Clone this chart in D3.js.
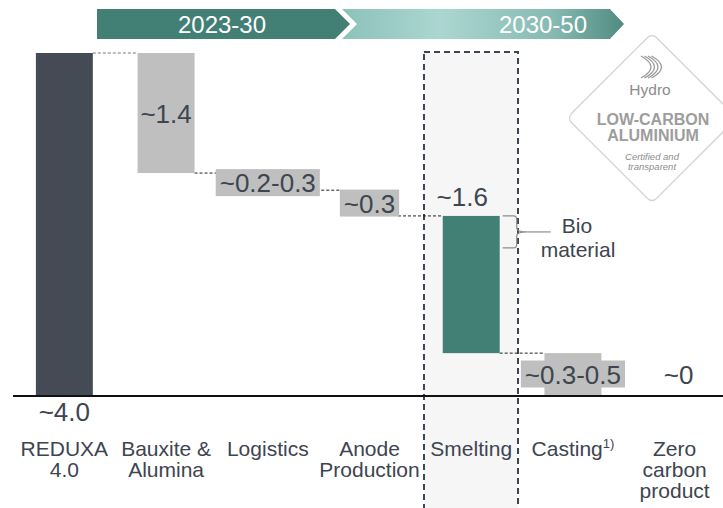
<!DOCTYPE html>
<html>
<head>
<meta charset="utf-8">
<script src="https://cdn.jsdelivr.net/npm/d3@7"></script>
<style>
  html, body { margin: 0; padding: 0; background: #fff; }
  svg { display: block; font-family: "Liberation Sans", Arial, sans-serif; }
</style>
</head>
<body>
<svg id="chart" width="723" height="508"></svg>
<script>
// ---------- data ----------
const categories = ["REDUXA 4.0", "Bauxite & Alumina", "Logistics", "Anode Production", "Smelting", "Casting", "Zero carbon product"];
const categoryLines = [["REDUXA", "4.0"], ["Bauxite &", "Alumina"], ["Logistics"], ["Anode", "Production"], ["Smelting"], ["Casting"], ["Zero", "carbon", "product"]];
const startValue = 4.0;
const reductions = [1.4, 0.2, 0.3, 1.6, 0.5];      // drawn steps (Bauxite..Casting)
const valueLabels = ["~4.0", "~1.4", "~0.2-0.3", "~0.3", "~1.6", "~0.3-0.5", "~0"];
const periods = ["2023-30", "2030-50"];
const logoLines = ["Hydro", "LOW-CARBON", "ALUMINIUM", "Certified and", "transparent"];

// ---------- layout ----------
const svg = d3.select("#chart");
const baseY = 396;
const y = d3.scaleLinear().domain([0, 4]).range([baseY, 53]);
const x = d3.scaleBand().domain(categories).range([13.5, 725.5]).paddingInner(0.44).paddingOuter(0.22);
const bw = x.bandwidth();
const cx = c => x(c) + bw / 2;

const TEXT = "#3d4550";
const TEAL = "#427f75";
const GREY = "#bfbfbf";
const DARK = "#444b54";

// build waterfall steps
const steps = [];
let level = startValue;
steps.push({ cat: categories[0], top: startValue, bottom: 0, type: "total" });
reductions.forEach((r, i) => {
  steps.push({ cat: categories[i + 1], top: level, bottom: level - r, type: i === 3 ? "smelt" : "step" });
  level -= r;
});

// ---------- header banners ----------
const defs = svg.append("defs");
const grad = defs.append("linearGradient").attr("id", "g2").attr("x1", "0").attr("x2", "1");
[["0%", "#8cc2ba"], ["35%", "#acd6d1"], ["75%", "#86bab2"], ["100%", "#4f8b81"]].forEach(s =>
  grad.append("stop").attr("offset", s[0]).attr("stop-color", s[1]));

const bTop = 9, bBot = 39, bMid = 24;
svg.append("polygon")
  .attr("points", [[97, bTop], [335, bTop], [350, bMid], [335, bBot], [97, bBot]].join(" "))
  .attr("fill", TEAL);
svg.append("polygon")
  .attr("points", [[342, bTop], [610, bTop], [624, bMid], [610, bBot], [342, bBot], [357, bMid]].join(" "))
  .attr("fill", "url(#g2)");
svg.append("text").attr("x", 222).attr("y", 32.5).attr("text-anchor", "middle")
  .attr("fill", "#fff").attr("font-size", 24).text(periods[0]);
svg.append("text").attr("x", 543).attr("y", 32.5).attr("text-anchor", "middle")
  .attr("fill", "#fff").attr("font-size", 24).text(periods[1]);

// ---------- smelting highlight box ----------
const smeltCat = categories[4];
svg.append("rect")
  .attr("x", 424).attr("y", 52).attr("width", 94).attr("height", 470)
  .attr("fill", "#f6f6f6").attr("stroke", TEXT).attr("stroke-width", 2)
  .attr("stroke-dasharray", "6,4");

// ---------- logo ----------
const logo = svg.append("g");
const lcx = 652, lcy = 118, lr = 85, rc = 7;
const pts = [[lcx, lcy - lr], [lcx + lr, lcy], [lcx, lcy + lr], [lcx - lr, lcy]];
let dpath = "";
pts.forEach((p, i) => {
  const prev = pts[(i + 3) % 4], next = pts[(i + 1) % 4];
  const f = (a, b, t) => [a[0] + (b[0] - a[0]) * t, a[1] + (b[1] - a[1]) * t];
  const len = Math.hypot(p[0] - prev[0], p[1] - prev[1]);
  const a = f(p, prev, rc / len), b = f(p, next, rc / len);
  dpath += (i === 0 ? "M" : "L") + a[0] + "," + a[1] + " Q" + p[0] + "," + p[1] + " " + b[0] + "," + b[1] + " ";
});
logo.append("path").attr("d", dpath + "Z")
  .attr("fill", "#fff").attr("stroke", "#d4d4d4").attr("stroke-width", 1.3);
// icon: nested arcs
[0, 3.5, 7, 10.5].forEach(d => {
  logo.append("path")
    .attr("d", `M${641 + d},${56} Q${661 + d},${67} ${641 + d},${78}`)
    .attr("fill", "none").attr("stroke", "#9a9a9a").attr("stroke-width", 1.3);
});
logo.append("text").attr("x", 650).attr("y", 95).attr("text-anchor", "middle")
  .attr("fill", "#8c8c8c").attr("font-size", 15.5).text(logoLines[0]);
logo.append("text").attr("x", 653).attr("y", 125).attr("text-anchor", "middle")
  .attr("fill", "#9d9d9d").attr("font-size", 16).attr("font-weight", "bold").text(logoLines[1]);
logo.append("text").attr("x", 653).attr("y", 141).attr("text-anchor", "middle")
  .attr("fill", "#9d9d9d").attr("font-size", 16).attr("font-weight", "bold").text(logoLines[2]);
logo.append("text").attr("x", 652).attr("y", 160).attr("text-anchor", "middle")
  .attr("fill", "#8c8c8c").attr("font-size", 9.5).attr("font-style", "italic").text(logoLines[3]);
logo.append("text").attr("x", 652).attr("y", 170).attr("text-anchor", "middle")
  .attr("fill", "#8c8c8c").attr("font-size", 9.5).attr("font-style", "italic").text(logoLines[4]);

// ---------- connectors ----------
for (let i = 0; i < steps.length - 1; i++) {
  const a = steps[i], b = steps[i + 1];
  const yy = y(a.type === "total" ? a.top : a.bottom);
  svg.append("line")
    .attr("x1", x(a.cat) + bw).attr("x2", x(b.cat))
    .attr("y1", yy).attr("y2", yy)
    .attr("stroke", i === 0 ? "#777" : "#222").attr("stroke-width", 1)
    .attr("stroke-dasharray", "3,2");
}

// ---------- bars ----------
svg.selectAll("rect.bar").data(steps).enter().append("rect")
  .attr("class", "bar")
  .attr("x", d => x(d.cat)).attr("width", bw)
  .attr("y", d => y(d.top)).attr("height", d => y(d.bottom) - y(d.top))
  .attr("fill", d => d.type === "total" ? DARK : d.type === "smelt" ? TEAL : GREY);

// ---------- axis line ----------
svg.append("line").attr("x1", 13).attr("x2", 723).attr("y1", baseY).attr("y2", baseY)
  .attr("stroke", "#111").attr("stroke-width", 2);

// ---------- value labels ----------
const VF = 26;
function boxLabel(text, xc, ymid) {
  const t = svg.append("text").attr("x", xc).attr("y", ymid + 9.5).attr("text-anchor", "middle")
    .attr("fill", TEXT).attr("font-size", VF).text(text);
  const bb = t.node().getBBox();
  const w = Math.max(bb.width + 8, bw);
  svg.insert("rect", () => t.node())
    .attr("x", xc - w / 2).attr("y", ymid - 13.5).attr("width", w).attr("height", 27)
    .attr("fill", GREY);
}
// total
svg.append("text").attr("x", cx(categories[0])).attr("y", 421).attr("text-anchor", "middle")
  .attr("fill", TEXT).attr("font-size", VF).text(valueLabels[0]);
// bauxite (inside bar)
svg.append("text").attr("x", cx(categories[1])).attr("y", (y(steps[1].top) + y(steps[1].bottom)) / 2 + 9.5)
  .attr("text-anchor", "middle").attr("fill", TEXT).attr("font-size", VF).text(valueLabels[1]);
// logistics
boxLabel(valueLabels[2], cx(categories[2]), (y(steps[2].top) + y(steps[2].bottom)) / 2 + 1);
// anode
boxLabel(valueLabels[3], cx(categories[3]), (y(steps[3].top) + y(steps[3].bottom)) / 2);
// smelting above bar
svg.append("text").attr("x", cx(categories[4]) - 9).attr("y", y(steps[4].top) - 10)
  .attr("text-anchor", "middle").attr("fill", TEXT).attr("font-size", VF).text(valueLabels[4]);
// casting
boxLabel(valueLabels[5], cx(categories[5]), 374);
// zero
svg.append("text").attr("x", cx(categories[6]) + 4).attr("y", 383.5).attr("text-anchor", "middle")
  .attr("fill", TEXT).attr("font-size", VF).text(valueLabels[6]);

// ---------- bio material bracket ----------
const bTopY = y(steps[4].top), bBotY = bTopY + 32;
const bx0 = x(smeltCat) + bw + 3;
svg.append("path")
  .attr("d", `M${bx0},${bTopY} L${bx0 + 11},${bTopY} Q${bx0 + 14},${bTopY} ${bx0 + 14},${bTopY + 4} L${bx0 + 14},${bTopY + 12} Q${bx0 + 14},${bTopY + 16} ${bx0 + 25},${bTopY + 16} Q${bx0 + 14},${bTopY + 16} ${bx0 + 14},${bTopY + 20} L${bx0 + 14},${bBotY - 4} Q${bx0 + 14},${bBotY} ${bx0 + 11},${bBotY} L${bx0},${bBotY}`)
  .attr("fill", "none").attr("stroke", "#8c8c8c").attr("stroke-width", 1.2);
svg.append("line").attr("x1", bx0 + 25).attr("x2", bx0 + 48).attr("y1", bTopY + 16).attr("y2", bTopY + 16)
  .attr("stroke", "#8c8c8c").attr("stroke-width", 1.2);
svg.append("text").attr("x", 577).attr("y", 233).attr("text-anchor", "middle")
  .attr("fill", TEXT).attr("font-size", 21).text("Bio");
svg.append("text").attr("x", 578).attr("y", 257).attr("text-anchor", "middle")
  .attr("fill", TEXT).attr("font-size", 21).text("material");

// ---------- category labels ----------
const CF = 21;
categoryLines.forEach((lines, i) => {
  const t = svg.append("text").attr("text-anchor", "middle").attr("fill", TEXT).attr("font-size", CF);
  lines.forEach((ln, j) => {
    t.append("tspan").attr("x", cx(categories[i])).attr("y", 456 + j * 21).text(ln);
    if (i === 5) {
      t.append("tspan").attr("font-size", 13).attr("dy", -8).text("1)");
    }
  });
});
</script>
</body>
</html>
